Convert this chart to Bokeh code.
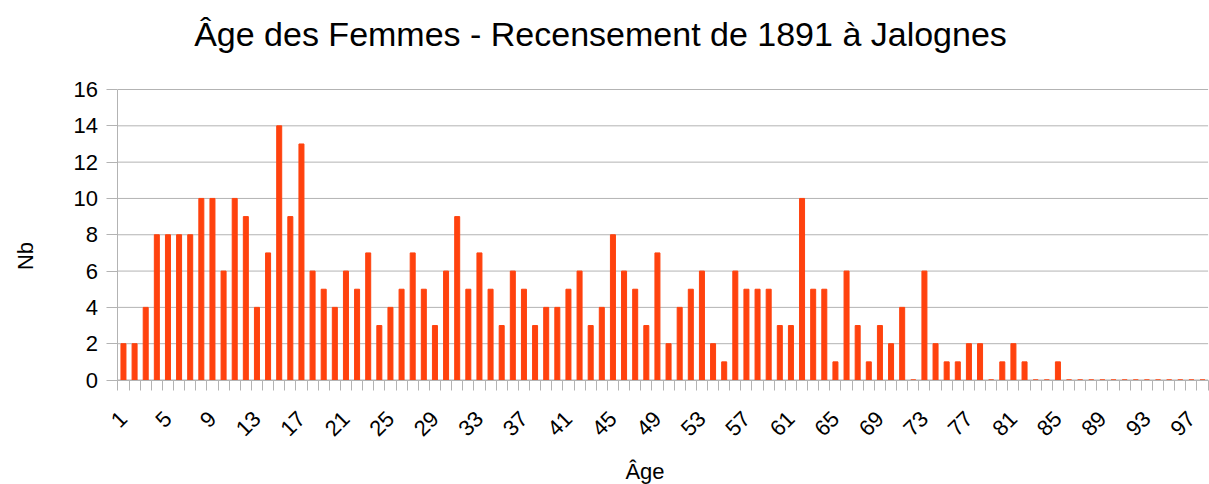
import math
from bokeh.plotting import figure
from bokeh.models import ColumnDataSource, FixedTicker, Range1d, Label
from bokeh.embed import file_html
from bokeh.resources import INLINE

ages = list(range(1, 99))
counts = [2, 2, 4, 8, 8, 8, 8, 10, 10, 6,
          10, 9, 4, 7, 14, 9, 13, 6, 5, 4,
          6, 5, 7, 3, 4, 5, 7, 5, 3, 6,
          9, 5, 7, 5, 3, 6, 5, 3, 4, 4,
          5, 6, 3, 4, 8, 6, 5, 3, 7, 2,
          4, 5, 6, 2, 1, 6, 5, 5, 5, 3,
          3, 10, 5, 5, 1, 6, 3, 1, 3, 2,
          4, 0, 6, 2, 1, 1, 2, 2, 0, 1,
          2, 1, 0, 0, 1, 0, 0, 0, 0, 0,
          0, 0, 0, 0, 0, 0, 0, 0]
label_ages = list(range(1, 99, 4))
y_ticks = list(range(0, 17, 2))

title_text = "Âge des Femmes - Recensement de 1891 à Jalognes"
x_title = "Âge"
y_title = "Nb"

FONT = "Liberation Sans"
BAR = "#ff420e"
GRID = "#b3b3b3"

W, H = 1209, 484
# pixel layout of the data area (left/right edge of the category band, y of 0 and 16)
PX_LEFT, PX_RIGHT = 117.4, 1207.6
PY_ZERO, PY_TOP = 379.5, 89.0

n = len(ages)
x0, x1 = 0.5, n + 0.5
ppx = (PX_RIGHT - PX_LEFT) / (x1 - x0)
ymax = y_ticks[-1]
ppy = (PY_ZERO - PY_TOP) / ymax
x_range = Range1d(x0 - PX_LEFT / ppx, x1 + (W - PX_RIGHT) / ppx)
y_range = Range1d(-(H - PY_ZERO) / ppy, ymax + PY_TOP / ppy)

src = ColumnDataSource(data=dict(age=ages, nb=counts))

p = figure(width=W, height=H, output_backend="svg", toolbar_location=None,
           x_range=x_range, y_range=y_range, title=None,
           min_border=0, min_border_left=0, min_border_right=0,
           min_border_top=0, min_border_bottom=0)
p.outline_line_color = None
p.background_fill_color = "white"
p.border_fill_color = "white"
p.xgrid.visible = False
p.ygrid.visible = False

# horizontal grid lines across the category band
p.segment(x0=[x0] * len(y_ticks), x1=[x1] * len(y_ticks), y0=y_ticks, y1=y_ticks,
          line_color=GRID, line_width=1)

p.vbar(x="age", top="nb", bottom=0, width=0.45, source=src,
       fill_color=BAR, line_color=BAR, line_width=1)

# x axis
xa = p.xaxis[0]
xa.fixed_location = 0
xa.bounds = (x0, x1)
xa.ticker = FixedTicker(ticks=label_ages, minor_ticks=[a + 0.5 for a in range(0, n + 1)])
xa.major_tick_line_color = None
xa.major_tick_out = 10
xa.major_tick_in = 0
xa.minor_tick_line_color = GRID
xa.minor_tick_out = 10
xa.minor_tick_in = 0
xa.axis_line_color = GRID
xa.major_label_orientation = math.pi / 4
xa.major_label_text_font = FONT
xa.major_label_text_font_size = "22px"
xa.major_label_text_color = "black"
xa.major_label_standoff = 25

# y axis
ya = p.yaxis[0]
ya.fixed_location = x0
ya.bounds = (0, ymax)
ya.ticker = FixedTicker(ticks=y_ticks)
ya.minor_tick_line_color = None
ya.major_tick_line_color = GRID
ya.major_tick_out = 11
ya.major_tick_in = 0
ya.axis_line_color = GRID
ya.major_label_text_font = FONT
ya.major_label_text_font_size = "22px"
ya.major_label_text_color = "black"
ya.major_label_standoff = 9

p.add_layout(Label(x=600, y=H - 33.5, x_units="screen", y_units="screen", text=title_text,
                   text_font=FONT, text_font_size="34px", text_color="black",
                   text_align="center", text_baseline="middle"))
p.add_layout(Label(x=644.5, y=H - 471.0, x_units="screen", y_units="screen", text=x_title,
                   text_font=FONT, text_font_size="22px", text_color="black",
                   text_align="center", text_baseline="middle"))
p.add_layout(Label(x=25.0, y=H - 255.5, x_units="screen", y_units="screen", text=y_title,
                   angle=math.pi / 2,
                   text_font=FONT, text_font_size="22px", text_color="black",
                   text_align="center", text_baseline="middle"))

open("out.html", "w").write(file_html(p, INLINE))
